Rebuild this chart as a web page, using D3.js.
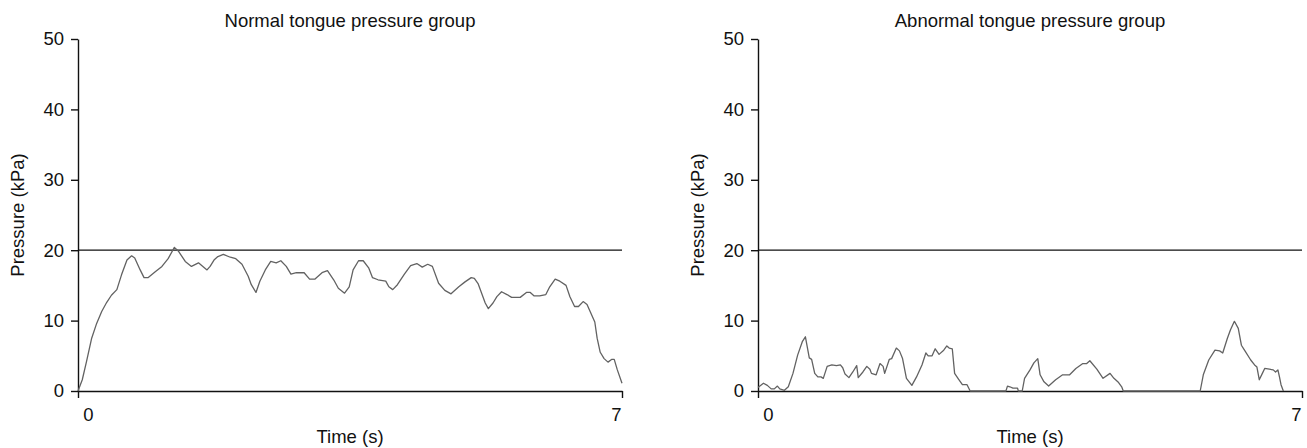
<!DOCTYPE html>
<html>
<head>
<meta charset="utf-8">
<script src="https://cdn.jsdelivr.net/npm/d3@7"></script>
<style>
  html, body { margin: 0; padding: 0; background: #fff; }
  svg text { font-family: "Liberation Sans", Arial, sans-serif; fill: #111; }
</style>
</head>
<body>
<svg id="chart" width="1307" height="448"></svg>
<script>
const titles = ['Normal tongue pressure group', 'Abnormal tongue pressure group'];
const yTicks = [0, 10, 20, 30, 40, 50];
const xTicks = [0, 7];
const threshold = 20;

// normal group
const normalTime = [0, 0.055, 0.11, 0.176, 0.24, 0.305, 0.37, 0.43, 0.5, 0.56, 0.63, 0.69, 0.73, 0.8, 0.85, 0.9, 0.99,
  1.08, 1.16, 1.24, 1.29, 1.38, 1.46, 1.55, 1.66, 1.7, 1.75, 1.8, 1.87, 1.96, 2.03, 2.11, 2.19, 2.23, 2.29, 2.34, 2.41,
  2.48, 2.55, 2.61, 2.68, 2.74, 2.81, 2.91, 2.98, 3.05, 3.14, 3.21, 3.29, 3.35, 3.43, 3.49, 3.54, 3.61, 3.67, 3.74,
  3.79, 3.86, 3.96, 4.0, 4.05, 4.11, 4.2, 4.28, 4.36, 4.43, 4.5, 4.56, 4.64, 4.72, 4.8, 4.85, 4.9, 4.98, 5.06, 5.1,
  5.15, 5.24, 5.28, 5.34, 5.39, 5.45, 5.52, 5.58, 5.69, 5.77, 5.82, 5.87, 5.94, 6.02, 6.07, 6.14, 6.2, 6.28, 6.33,
  6.39, 6.44, 6.5, 6.55, 6.59, 6.65, 6.68, 6.72, 6.77, 6.82, 6.87, 6.9, 6.94, 7.0];
const normalPressure = [0, 1.6, 4.2, 7.5, 9.6, 11.3, 12.6, 13.6, 14.4, 16.5, 18.6, 19.2, 18.9, 17.2, 16.1, 16.1, 16.9,
  17.7, 18.8, 20.4, 19.9, 18.4, 17.7, 18.2, 17.2, 17.7, 18.6, 19.1, 19.4, 19.0, 18.8, 18.0, 16.3, 15.1, 14.0, 15.6, 17.2,
  18.4, 18.2, 18.5, 17.7, 16.6, 16.8, 16.8, 15.9, 15.9, 16.8, 17.1, 15.8, 14.6, 13.9, 14.8, 17.2, 18.5, 18.5, 17.5,
  16.1, 15.8, 15.6, 14.8, 14.4, 15.1, 16.6, 17.8, 18.1, 17.6, 18.0, 17.7, 15.3, 14.3, 13.8, 14.3, 14.8, 15.5, 16.1, 16.0,
  15.2, 12.5, 11.7, 12.5, 13.4, 14.1, 13.7, 13.3, 13.3, 14.0, 14.0, 13.5, 13.5, 13.7, 14.8, 15.9, 15.6, 15.0, 13.4,
  12.0, 12.0, 12.7, 12.3, 11.3, 9.8, 7.5, 5.5, 4.6, 4.1, 4.5, 4.5, 3.0, 1.1];

// abnormal group
const abnormalTime = [0, 0.07, 0.12, 0.17, 0.21, 0.25, 0.28, 0.34, 0.39, 0.45, 0.51, 0.57, 0.61, 0.66, 0.69, 0.73,
  0.77, 0.81, 0.84, 0.89, 0.95, 1.01, 1.06, 1.09, 1.12, 1.17, 1.22, 1.27, 1.29, 1.35, 1.4, 1.44, 1.46, 1.52, 1.57,
  1.61, 1.63, 1.69, 1.72, 1.78, 1.82, 1.86, 1.91, 1.98, 2.04, 2.11, 2.16, 2.19, 2.24, 2.28, 2.33, 2.39, 2.43, 2.46,
  2.5, 2.53, 2.58, 2.63, 2.69, 2.73, 3.19, 3.21, 3.24, 3.28, 3.34, 3.35, 3.4, 3.43, 3.5, 3.55, 3.6, 3.63, 3.68, 3.74,
  3.83, 3.92, 4.01, 4.09, 4.18, 4.23, 4.27, 4.36, 4.44, 4.53, 4.58, 4.64, 4.68, 4.7, 5.69, 5.73, 5.8, 5.88, 5.94, 5.98,
  6.04, 6.08, 6.13, 6.18, 6.22, 6.26, 6.34, 6.39, 6.42, 6.45, 6.49, 6.52, 6.58, 6.63, 6.66, 6.69, 6.71, 6.73, 6.76];
const abnormalPressure = [0.5, 1.1, 0.8, 0.3, 0.3, 0.7, 0.3, 0.1, 0.6, 2.5, 5.1, 7.0, 7.7, 4.7, 4.5, 2.5,
  2.0, 2.0, 1.8, 3.5, 3.7, 3.6, 3.7, 3.3, 2.4, 1.9, 2.7, 3.6, 1.9, 2.7, 3.5, 3.1, 2.5, 2.3, 3.9,
  3.5, 2.5, 4.5, 4.6, 6.1, 5.7, 4.6, 1.8, 0.8, 2.0, 3.7, 5.4, 5.0, 5.0, 6.0, 5.2, 5.8, 6.4, 6.1,
  6.0, 2.5, 1.7, 0.9, 0.9, 0, 0, 0.7, 0.6, 0.4, 0.4, 0, 0, 1.8, 3.0, 4.0, 4.6, 2.3, 1.3, 0.7,
  1.6, 2.3, 2.3, 3.2, 3.9, 3.9, 4.3, 3.1, 1.8, 2.5, 1.8, 1.2, 0.6, 0, 0, 2.3, 4.4, 5.8, 5.7, 5.4,
  7.5, 8.7, 9.9, 8.9, 6.5, 5.8, 4.4, 3.7, 3.4, 1.6, 2.5, 3.2, 3.1, 3.0, 2.7, 3.0, 2.0, 0.9, 0];

const svg = d3.select('#chart');
const fontSize = 18.5;

function drawPanel(left, right, title, times, values) {
  const x = d3.scaleLinear().domain([0, 7]).range([left, right]);
  const y = d3.scaleLinear().domain([0, 50]).range([391, 39]);
  const g = svg.append('g');

  // y axis
  const yAxis = g.append('g')
    .attr('transform', `translate(${left},0)`)
    .call(d3.axisLeft(y).tickValues(yTicks).tickSizeInner(7).tickSizeOuter(0).tickPadding(7));
  yAxis.selectAll('text').style('font-size', fontSize + 'px');

  // x axis
  const xAxis = g.append('g')
    .attr('transform', `translate(0,${y(0)})`)
    .call(d3.axisBottom(x).tickValues(xTicks).tickSizeInner(7).tickSizeOuter(0).tickFormat(d3.format('d')));
  xAxis.selectAll('text')
    .style('font-size', fontSize + 'px')
    .attr('y', 24)
    .attr('dy', '0.32em')
    .attr('dx', d => d === 0 ? 10 : -6);

  [yAxis, xAxis].forEach(a => {
    a.selectAll('path, line').attr('stroke', '#111').attr('stroke-width', 1.4);
  });

  // 20 kPa reference line
  g.append('line')
    .attr('x1', x(0)).attr('x2', x(7))
    .attr('y1', y(threshold)).attr('y2', y(threshold))
    .attr('stroke', '#111')
    .attr('stroke-width', 1.3);

  const line = d3.line()
    .x(d => x(d[0]))
    .y(d => y(d[1]));
  g.append('path')
    .datum(times.map((t, i) => [t, values[i]]))
    .attr('fill', 'none')
    .attr('stroke', '#626262')
    .attr('stroke-width', 1.3)
    .attr('stroke-linejoin', 'round')
    .attr('d', line);

  g.append('text')
    .attr('x', (left + right) / 2)
    .attr('y', 27)
    .attr('text-anchor', 'middle')
    .style('font-size', fontSize + 'px')
    .text(title);

  g.append('text')
    .attr('x', (left + right) / 2)
    .attr('y', 443)
    .attr('text-anchor', 'middle')
    .style('font-size', fontSize + 'px')
    .text('Time (s)');

  g.append('text')
    .attr('transform', `translate(${left - 54},${(y(0) + y(50)) / 2}) rotate(-90)`)
    .attr('text-anchor', 'middle')
    .style('font-size', fontSize + 'px')
    .text('Pressure (kPa)');
}

drawPanel(78, 622, titles[0], normalTime, normalPressure);
drawPanel(758, 1302, titles[1], abnormalTime, abnormalPressure);
</script>
</body>
</html>
